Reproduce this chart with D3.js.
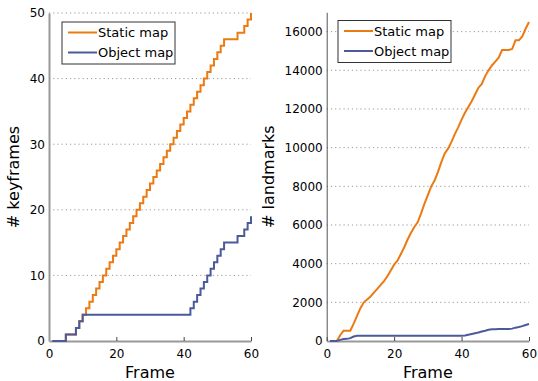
<!DOCTYPE html>
<html lang="en">
<head>
<meta charset="UTF-8">
<title>Keyframes and landmarks</title>
<script src="https://cdn.jsdelivr.net/npm/d3@7"></script>
<style>
    body { margin: 0; background: #fff; }
    svg { font-family: "DejaVu Sans", sans-serif; }
    .grid line { stroke: #999; stroke-dasharray: 1.2,3; }
</style>
</head>
<body>
<div id="chart"></div>
<script>
// frame index (x axis)
var frames = d3.range(1, 61);

// # keyframes per frame
var keyStatic = [0, 0, 0, 0, 1, 1, 1, 2, 3, 4,
    5, 6, 7, 8, 9, 10, 11, 12, 13, 14,
    15, 16, 17, 18, 19, 20, 21, 22, 23, 24,
    25, 26, 27, 28, 29, 30, 31, 32, 33, 34,
    35, 36, 37, 38, 39, 40, 41, 42, 43, 44,
    45, 46, 46, 46, 46, 47, 47, 48, 49, 50];
var keyObject = [0, 0, 0, 0, 1, 1, 1, 2, 3, 4,
    4, 4, 4, 4, 4, 4, 4, 4, 4, 4,
    4, 4, 4, 4, 4, 4, 4, 4, 4, 4,
    4, 4, 4, 4, 4, 4, 4, 4, 4, 4,
    4, 5, 6, 7, 8, 9, 10, 11, 12, 13,
    14, 15, 15, 15, 15, 16, 16, 17, 18, 19];

// # landmarks per frame
var lmStatic = [0, 0, 0, 300, 530, 530, 530, 900, 1300, 1700,
    2000, 2150, 2300, 2500, 2700, 2900, 3100, 3350, 3650, 3950,
    4150, 4500, 4850, 5250, 5600, 5900, 6150, 6600, 7100, 7550,
    8000, 8300, 8750, 9250, 9700, 9950, 10300, 10700, 11050, 11450,
    11800, 12100, 12400, 12750, 13100, 13300, 13700, 14000, 14250, 14450,
    14650, 15050, 15050, 15050, 15100, 15550, 15550, 15750, 16150, 16500];
var lmObject = [0, 0, 0, 60, 100, 110, 150, 230, 270, 270,
    270, 270, 270, 270, 270, 270, 270, 270, 270, 270,
    270, 270, 270, 270, 270, 270, 270, 270, 270, 270,
    270, 270, 270, 270, 270, 270, 270, 270, 270, 270,
    280, 320, 360, 400, 440, 490, 530, 580, 610, 610,
    620, 620, 620, 620, 640, 690, 720, 770, 830, 880];

var seriesNames = ["Static map", "Object map"];
var colors = ["#ec7a12", "#4b5a9b"];
var xTicks = [0, 20, 40, 60];

var svg = d3.select("#chart").append("svg")
    .attr("width", 538)
    .attr("height", 381);

function drawPanel(p) {
    var x = d3.scaleLinear().domain([0, 60]).range([p.left, p.right]);
    var y = d3.scaleLinear().domain([0, p.yMax]).range([341, p.top]);
    var g = svg.append("g");

    // dotted grid
    g.append("g").attr("class", "grid")
        .selectAll("line")
        .data(p.yTicks.filter(function(d) { return d > 0; }))
        .enter().append("line")
        .attr("x1", p.left).attr("x2", p.right)
        .attr("y1", function(d) { return y(d); })
        .attr("y2", function(d) { return y(d); });

    // x axis
    var xAxis = g.append("g")
        .attr("transform", "translate(0,341)")
        .call(d3.axisBottom(x).tickValues(xTicks).tickSizeInner(-4).tickSizeOuter(0).tickPadding(8));
    xAxis.select(".domain").attr("stroke", "#999").attr("stroke-width", 2);
    xAxis.selectAll(".tick line").attr("stroke", "#444");
    xAxis.selectAll("text").attr("font-size", 12).attr("fill", "#000")
        .attr("font-family", "DejaVu Sans");

    // y axis
    var yAxis = g.append("g")
        .attr("transform", "translate(" + p.left + ",0)")
        .call(d3.axisLeft(y).tickValues(p.yTicks).tickFormat(d3.format("d"))
            .tickSizeInner(0).tickSizeOuter(0).tickPadding(4));
    yAxis.select(".domain").attr("stroke", p.yAxisColor).attr("stroke-width", p.yAxisWidth);
    yAxis.selectAll("text").attr("font-size", 12).attr("fill", "#000")
        .attr("font-family", "DejaVu Sans");

    // lines
    var line = d3.line()
        .curve(p.curve)
        .x(function(d) { return x(d[0]); })
        .y(function(d) { return y(d[1]); });
    p.series.forEach(function(vals, i) {
        g.append("path")
            .datum(frames.map(function(f, j) { return [f, vals[j]]; }))
            .attr("fill", "none")
            .attr("stroke", colors[i])
            .attr("stroke-width", 2)
            .attr("d", line);
    });

    // axis labels
    g.append("text")
        .attr("x", (p.left + p.right) / 2).attr("y", 378)
        .attr("text-anchor", "middle").attr("font-size", 16)
        .text("Frame");
    g.append("text")
        .attr("transform", "translate(" + p.labelX + "," + ((341 + p.top) / 2) + ") rotate(-90)")
        .attr("text-anchor", "middle").attr("font-size", 16)
        .text(p.yLabel);

    // legend
    var lg = g.append("g").attr("transform", "translate(" + p.legX + "," + p.legY + ")");
    lg.append("rect")
        .attr("width", 113).attr("height", 42)
        .attr("fill", "#fff").attr("stroke", "#333").attr("stroke-width", 1);
    seriesNames.forEach(function(name, i) {
        var ry = 10.5 + i * 20;
        lg.append("line")
            .attr("x1", 6).attr("x2", 35)
            .attr("y1", ry).attr("y2", ry)
            .attr("stroke", colors[i]).attr("stroke-width", 2);
        lg.append("text")
            .attr("x", 36).attr("y", ry + 4.5)
            .attr("font-size", 13)
            .text(name);
    });
}

drawPanel({
    left: 49, right: 251, top: 13, yMax: 50,
    yTicks: [0, 10, 20, 30, 40, 50],
    series: [keyStatic, keyObject],
    curve: d3.curveStepAfter,
    yLabel: "# keyframes", labelX: 18.5,
    yAxisColor: "#999", yAxisWidth: 2,
    legX: 62, legY: 22
});

drawPanel({
    left: 326.7, right: 529, top: 12.3, yMax: 17000,
    yTicks: [0, 2000, 4000, 6000, 8000, 10000, 12000, 14000, 16000],
    series: [lmStatic, lmObject],
    curve: d3.curveLinear,
    yLabel: "# landmarks", labelX: 274,
    yAxisColor: "#555", yAxisWidth: 1,
    legX: 338, legY: 20.5
});
</script>
</body>
</html>
